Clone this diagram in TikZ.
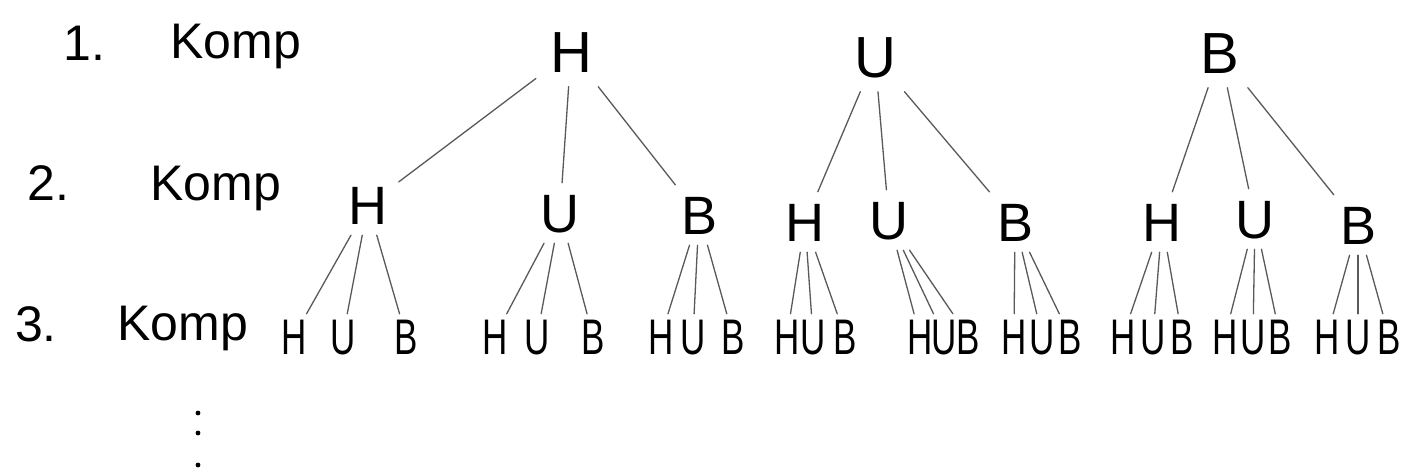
\documentclass[tikz,border=0pt]{standalone}
\usepackage{fontspec}
\setmainfont{Liberation Sans}
\newfontfamily\leaffont[FakeStretch=0.7]{Liberation Sans}

\begin{document}
\begin{tikzpicture}[x=1pt,y=-1pt,
  rowlabel/.style={font=\fontsize{50}{50}\selectfont, inner sep=0pt, anchor=base west},
  rootnode/.style={font=\fontsize{58}{58}\selectfont, inner sep=14pt, text height=41pt, text depth=0pt},
  midnode/.style={font=\fontsize{54}{54}\selectfont, inner sep=11pt, text height=38pt, text depth=0pt},
  leafnode/.style={font=\leaffont\fontsize{50}{50}\selectfont, inner sep=4pt, text height=36pt, text depth=0pt},
  branch/.style={draw=black!65, line width=1.3pt, line cap=round}]
\useasboundingbox (0,0) rectangle (1404,472);

% level labels
\node[rowlabel] (n1) at (63,60) {1.};
\node[rowlabel] (k1) at (170,58) {Komp};
\node[rowlabel] (n2) at (27,200) {2.};
\node[rowlabel] (k2) at (150,200) {Komp};
\node[rowlabel] (n3) at (15,341) {3.};
\node[rowlabel] (k3) at (117,340) {Komp};

% first component
\node[rootnode] (H) at (571,52) {H};
\node[rootnode] (U) at (875,57) {U};
\node[rootnode] (B) at (1220,53) {B};

% second component
\node[midnode] (HH) at (368,205) {H};
\node[midnode] (HU) at (560,213) {U};
\node[midnode] (HB) at (699,215) {B};
\node[midnode] (UH) at (805,222) {H};
\node[midnode] (UU) at (889,220) {U};
\node[midnode] (UB) at (1015,222) {B};
\node[midnode] (BH) at (1162,222) {H};
\node[midnode] (BU) at (1255,219) {U};
\node[midnode] (BB) at (1358,225) {B};

% third component
\foreach \p/\a/\b/\c in {HH/294/343/406, HU/495/537/593, HB/661/693/733,
                         UH/787/813/845, UU/920/944/968, UB/1014/1042/1070,
                         BH/1123/1153/1182, BU/1225/1253/1280, BB/1327/1358/1389}{
  \node[leafnode] (\p H) at (\a,336) {H};
  \node[leafnode] (\p U) at (\b,336) {U};
  \node[leafnode] (\p B) at (\c,336) {B};
  \draw[branch] (\p) -- (\p H);
  \draw[branch] (\p) -- (\p U);
  \draw[branch] (\p) -- (\p B);
}

% branches of the first component
\foreach \r in {H,U,B}{
  \draw[branch] (\r) -- (\r H);
  \draw[branch] (\r) -- (\r U);
  \draw[branch] (\r) -- (\r B);
}

% further components
\fill (198,413) circle (2.4pt);
\fill (198,433) circle (2.4pt);
\fill (198,465) circle (2.4pt);
\end{tikzpicture}
\end{document}
